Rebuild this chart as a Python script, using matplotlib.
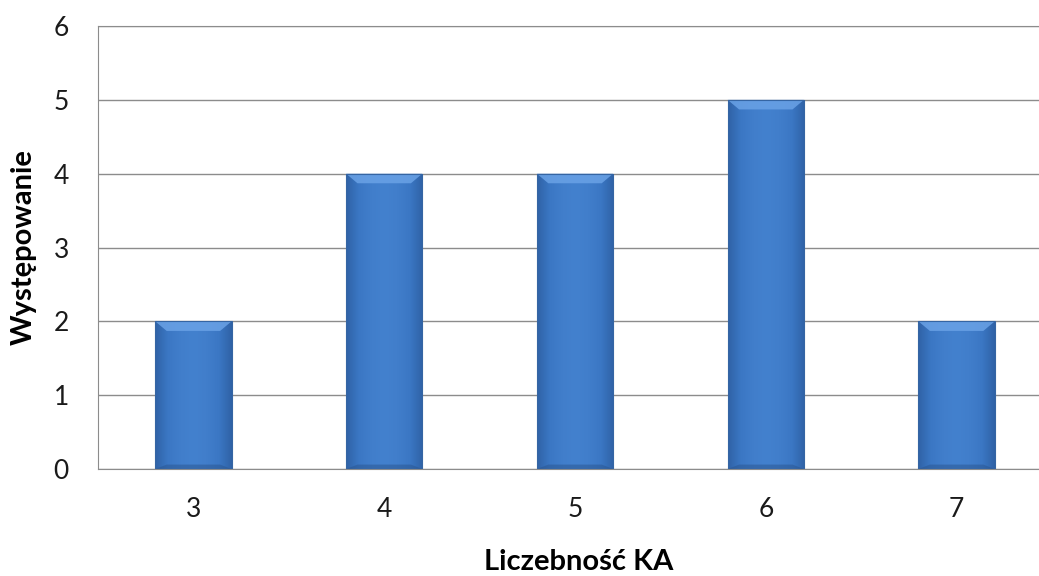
import numpy as np
import matplotlib.pyplot as plt
from matplotlib.patches import Polygon
from matplotlib.colors import LinearSegmentedColormap

# data
categories = ['3', '4', '5', '6', '7']
counts = [2, 4, 4, 5, 2]

plt.rcParams['font.family'] = ['Lato', 'DejaVu Sans']

fig = plt.figure(figsize=(10.39, 5.76), dpi=100)
# right edge of the plot area runs past the picture, as in the original
ax = fig.add_axes([98 / 1039, 1 - 469 / 576, (1052 - 98) / 1039, (469 - 26) / 576])

x = np.arange(len(categories))
width = 0.40

ax.set_xlim(-0.5, len(categories) - 0.5)
ax.set_ylim(0, 6)
ax.set_yticks(range(7))
ax.set_xticks(x)
ax.set_xticklabels(categories)
ax.yaxis.grid(True, color='#8c8c8c', linewidth=1.0)
ax.set_axisbelow(True)
for s in ax.spines.values():
    s.set_color('#8c8c8c')
ax.tick_params(length=0, labelsize=19, colors='#1a1a1a')
ax.tick_params(axis='y', pad=21)
ax.tick_params(axis='x', pad=20)

# horizontal bevel gradient for the bars
cmap = LinearSegmentedColormap.from_list(
    'bevel', ['#2f62a6', '#3b77c4', '#417ecb', '#4381ce', '#417ecb', '#3b77c4', '#2f62a6'])
grad = np.linspace(0, 1, 256).reshape(1, -1)

bars = ax.bar(x, counts, width=width, color='none', edgecolor='#3565a3', linewidth=0.8, zorder=3)
for b, h in zip(bars, counts):
    x0 = b.get_x()
    im = ax.imshow(grad, cmap=cmap, aspect='auto', extent=(x0, x0 + width, 0, h),
                   zorder=2, interpolation='bicubic')
    im.set_clip_path(b)
    # light top bevel (trapezoid) and dark bottom edge
    bev = 0.06
    ax.add_patch(Polygon([(x0, h), (x0 + width, h), (x0 + width - bev, h - 0.13), (x0 + bev, h - 0.13)],
                         closed=True, color='#6aa2e6', alpha=0.85, zorder=2.5, linewidth=0))
    ax.add_patch(Polygon([(x0, 0), (x0 + width, 0), (x0 + width - bev, 0.06), (x0 + bev, 0.06)],
                         closed=True, color='#2a558f', alpha=0.5, zorder=2.5, linewidth=0))

ax.set_ylabel('Występowanie', fontsize=21, fontweight='bold', labelpad=12)
ax.set_xlabel('Liczebność KA', fontsize=21, fontweight='bold')
ax.xaxis.set_label_coords((579 - 98) / (1052 - 98), -0.18)

fig.savefig('out.png', dpi=100)
